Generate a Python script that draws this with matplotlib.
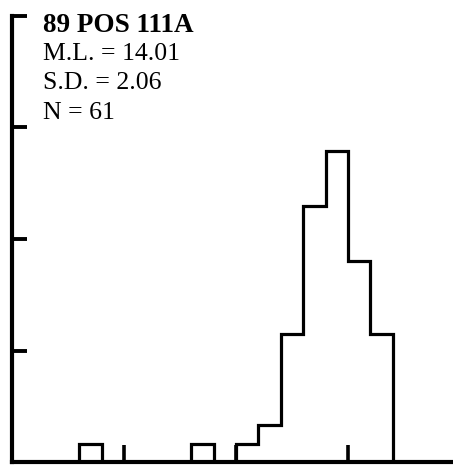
import numpy as np
import matplotlib
matplotlib.use("Agg")
import matplotlib.pyplot as plt

# length-frequency data (counts per 1-unit bin)
bin_edges = np.arange(0, 21, 1)
counts = [0, 0, 0, 1, 0, 0, 0, 0, 1, 0, 1, 2, 7, 14, 17, 11, 7, 0, 0, 0]
n_total = 61
title = "89 POS 111A"
info_lines = ["M.L. = 14.01", "S.D. = 2.06", "N = 61"]
y_ticks = [0, 10, 20, 30, 40]
x_ticks = [5, 10, 15]

W, H = 453, 465
fig = plt.figure(figsize=(W / 100, H / 100), dpi=100)
fig.patch.set_facecolor("white")

# axes placed in pixel terms to match the scanned figure
x0, y0 = 12, 3
ax = fig.add_axes([x0 / W, y0 / H, (W - x0) / W, 446 / H])

pct = np.array(counts) / n_total * 100
ax.stairs(pct, bin_edges, color="black", linewidth=2.3, baseline=0)

ax.set_xlim(0, (W - x0) / 22.4)
ax.set_ylim(0, 40)
for s in ["top", "right"]:
    ax.spines[s].set_visible(False)
for s in ["left", "bottom"]:
    ax.spines[s].set_linewidth(3.0)
    ax.spines[s].set_capstyle("projecting")

ax.set_yticks(y_ticks)
ax.set_xticks(x_ticks)
ax.tick_params(axis="y", direction="in", length=11, width=2.8, labelleft=False)
ax.tick_params(axis="x", direction="in", length=12, width=2.6, labelbottom=False)

serif = ["Liberation Serif", "DejaVu Serif"]
fig.text(43 / W, 1 - 32 / H, title, family=serif, fontsize=19.5, fontweight="bold",
         va="baseline", ha="left")
baselines = [60, 89, 119]
for txt, yb in zip(info_lines, baselines):
    fig.text(43 / W, 1 - yb / H, txt, family=serif, fontsize=18.5,
             va="baseline", ha="left")

fig.savefig("out.png", dpi=100, facecolor="white")
